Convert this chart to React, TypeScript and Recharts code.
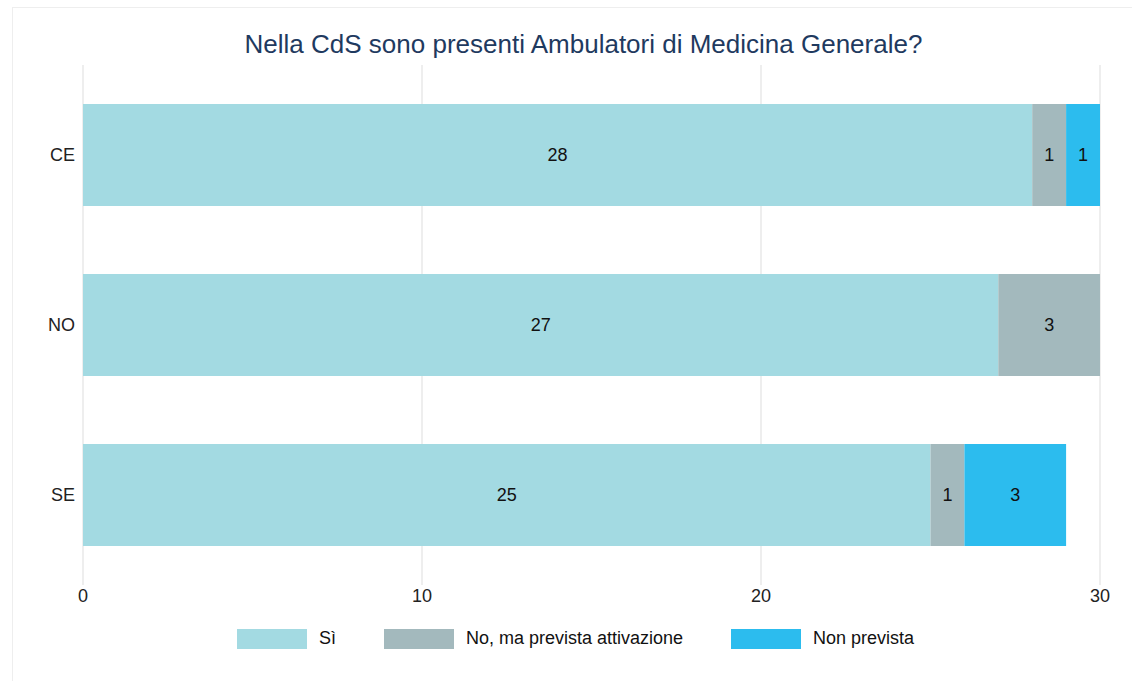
import { BarChart, Bar, XAxis, YAxis, CartesianGrid, LabelList } from 'recharts';

const categories = ['CE', 'NO', 'SE'];
const siValues = [28, 27, 25];
const noMaValues = [1, 3, 1];
const nonPrevistaValues = [1, 0, 3];
const xTicks = [0, 10, 20, 30];

const series = [
  { key: 'si', name: 'Sì', color: '#a3dae2' },
  { key: 'noMa', name: 'No, ma prevista attivazione', color: '#a3b9bd' },
  { key: 'nonPrevista', name: 'Non prevista', color: '#2cbcee' },
];

const data = categories.map((cat, i) => ({
  cat,
  si: siValues[i],
  noMa: noMaValues[i],
  nonPrevista: nonPrevistaValues[i],
}));

const font = '"Liberation Sans", Arial, sans-serif';

const hideZero = (v: any) => (v ? v : '');

export default function App() {
  return (
    <div
      style={{
        position: 'absolute',
        left: 0,
        top: 0,
        width: 1132,
        height: 681,
        background: '#fff',
        fontFamily: font,
      }}
    >
      <div
        style={{
          position: 'absolute',
          left: 12,
          top: 7,
          width: 1120,
          height: 674,
          borderLeft: '1px solid #eeeeee',
          borderTop: '1px solid #eeeeee',
        }}
      />
      <div
        style={{
          position: 'absolute',
          left: 0,
          top: 29,
          width: 1167,
          textAlign: 'center',
          fontSize: 26,
          color: '#1f3a5f',
          whiteSpace: 'nowrap',
        }}
      >
        Nella CdS sono presenti Ambulatori di Medicina Generale?
      </div>
      <div style={{ position: 'absolute', left: 0, top: 0 }}>
        <BarChart
          width={1132}
          height={681}
          data={data}
          layout="vertical"
          barCategoryGap="20%"
          margin={{ top: 65, right: 32, bottom: 66, left: 0 }}
        >
          <CartesianGrid horizontal={false} stroke="#dddddd" />
          <XAxis
            type="number"
            domain={[0, 30]}
            ticks={xTicks}
            axisLine={false}
            tickLine={false}
            tickSize={4}
            tickMargin={0}
            height={30}
            tick={{ fontSize: 18, fill: '#222', fontFamily: font }}
          />
          <YAxis
            type="category"
            dataKey="cat"
            width={83}
            axisLine={false}
            tickLine={false}
            padding={{ top: 5, bottom: 5 }}
            tick={{ fontSize: 18, fill: '#222', fontFamily: font }}
          />
          {series.map((s) => (
            <Bar
              key={s.key}
              dataKey={s.key}
              name={s.name}
              stackId="a"
              fill={s.color}
              isAnimationActive={false}
            >
              <LabelList
                dataKey={s.key}
                position="center"
                formatter={hideZero}
                style={{ fontSize: 18, fill: '#111', fontFamily: font }}
              />
            </Bar>
          ))}
        </BarChart>
      </div>
      <div
        style={{
          position: 'absolute',
          left: 0,
          top: 628,
          width: 1151,
          display: 'flex',
          justifyContent: 'center',
          alignItems: 'center',
          fontSize: 18,
          color: '#111',
        }}
      >
        {series.map((s) => (
          <div key={s.key} style={{ display: 'flex', alignItems: 'center', margin: '0 24px' }}>
            <div style={{ width: 70, height: 20, background: s.color }} />
            <span style={{ marginLeft: 12 }}>{s.name}</span>
          </div>
        ))}
      </div>
    </div>
  );
}
